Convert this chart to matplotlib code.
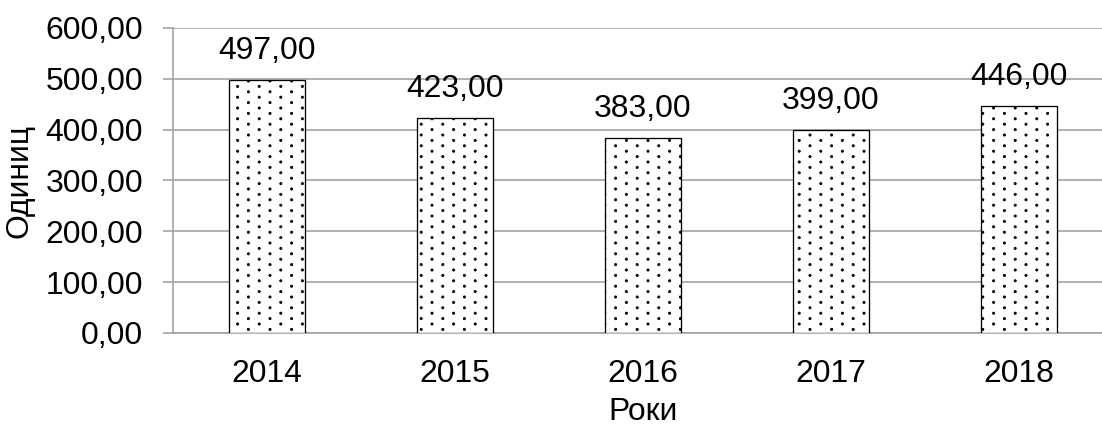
import matplotlib
matplotlib.use("Agg")
import numpy as np
import matplotlib.pyplot as plt
from matplotlib import hatch as mhatch
from matplotlib.path import Path

years = ["2014", "2015", "2016", "2017", "2018"]
values = [497, 423, 383, 399, 446]
y_ticks = [0, 100, 200, 300, 400, 500, 600]
x_label = "Роки"
y_label = "Одиниц"

DPI = 108
def px(v):
    """pixels -> points at the figure dpi"""
    return v * 72.0 / DPI


class DotLattice(mhatch.HatchPatternBase):
    """Staggered dot pattern (replaces the '.' hatch)."""
    nrows = 20
    ncols = 5
    radius = 1.1 / 108

    def __init__(self, hatch, density):
        circle = Path.unit_circle()
        self.shape_vertices = circle.vertices
        self.shape_codes = circle.codes
        if hatch.count('.') == 0:
            self.num_vertices = 0
            return
        n = 0
        for row in range(self.nrows + 1):
            n += (self.ncols + 1) if row % 2 == 0 else self.ncols
        self.num_shapes = n
        self.num_vertices = n * len(self.shape_vertices)

    def set_vertices_and_codes(self, vertices, codes):
        sv = self.shape_vertices * self.radius
        vparts, cparts = [], []
        for row in range(self.nrows + 1):
            if row % 2 == 0:
                cols = np.linspace(0, 1, self.ncols + 1)
            else:
                cols = (np.arange(self.ncols) + 0.5) / self.ncols
            rp = row / self.nrows
            for cp in cols:
                vparts.append(sv + [cp, rp])
                cparts.append(self.shape_codes)
        np.concatenate(vparts, out=vertices)
        np.concatenate(cparts, out=codes)


mhatch._hatch_types = [DotLattice if t is mhatch.SmallFilledCircles else t
                       for t in mhatch._hatch_types]

plt.rcParams['font.family'] = ['Liberation Sans', 'DejaVu Sans']
plt.rcParams['hatch.color'] = '#3a3a3a'
plt.rcParams['hatch.linewidth'] = px(0.8)

W, H = 1102, 427
fig = plt.figure(figsize=(W / DPI, H / DPI), dpi=DPI)
ax = fig.add_axes([173 / W, 1 - 333 / H, 940 / W, 305 / H])

FS = px(31.9)
GRID = '#a0a0a0'
x = list(range(len(years)))
ax.bar(x, values, width=0.40, color='white', edgecolor='black',
       linewidth=px(1.3), hatch='.', zorder=3)
ax.set_xlim(-0.5, len(years) - 0.5)
ax.set_ylim(0, 600)
ax.set_yticks(y_ticks)
ax.set_yticklabels([f"{v:.2f}".replace('.', ',') for v in y_ticks], fontsize=FS)
ax.set_xticks(x)
ax.set_xticklabels(years, fontsize=FS)
ax.tick_params(axis='x', length=0, pad=px(26))
ax.tick_params(axis='y', length=px(10), width=px(1.6), color=GRID, pad=px(20))
ax.grid(axis='y', color=GRID, linewidth=px(1.6), zorder=0)
for s in ['top', 'right']:
    ax.spines[s].set_visible(False)
for s in ['left', 'bottom']:
    ax.spines[s].set_color(GRID)
    ax.spines[s].set_linewidth(px(1.6))

for xi, v in zip(x, values):
    ax.annotate(f"{v:.2f}".replace('.', ','), (xi, v), xytext=(0, px(14)),
                textcoords='offset points', ha='center', va='bottom', fontsize=FS)

ax.set_xlabel(x_label, fontsize=FS, labelpad=px(8))
ax.set_ylabel(y_label, fontsize=FS, labelpad=px(11))

fig.savefig("out.png", dpi=DPI)
